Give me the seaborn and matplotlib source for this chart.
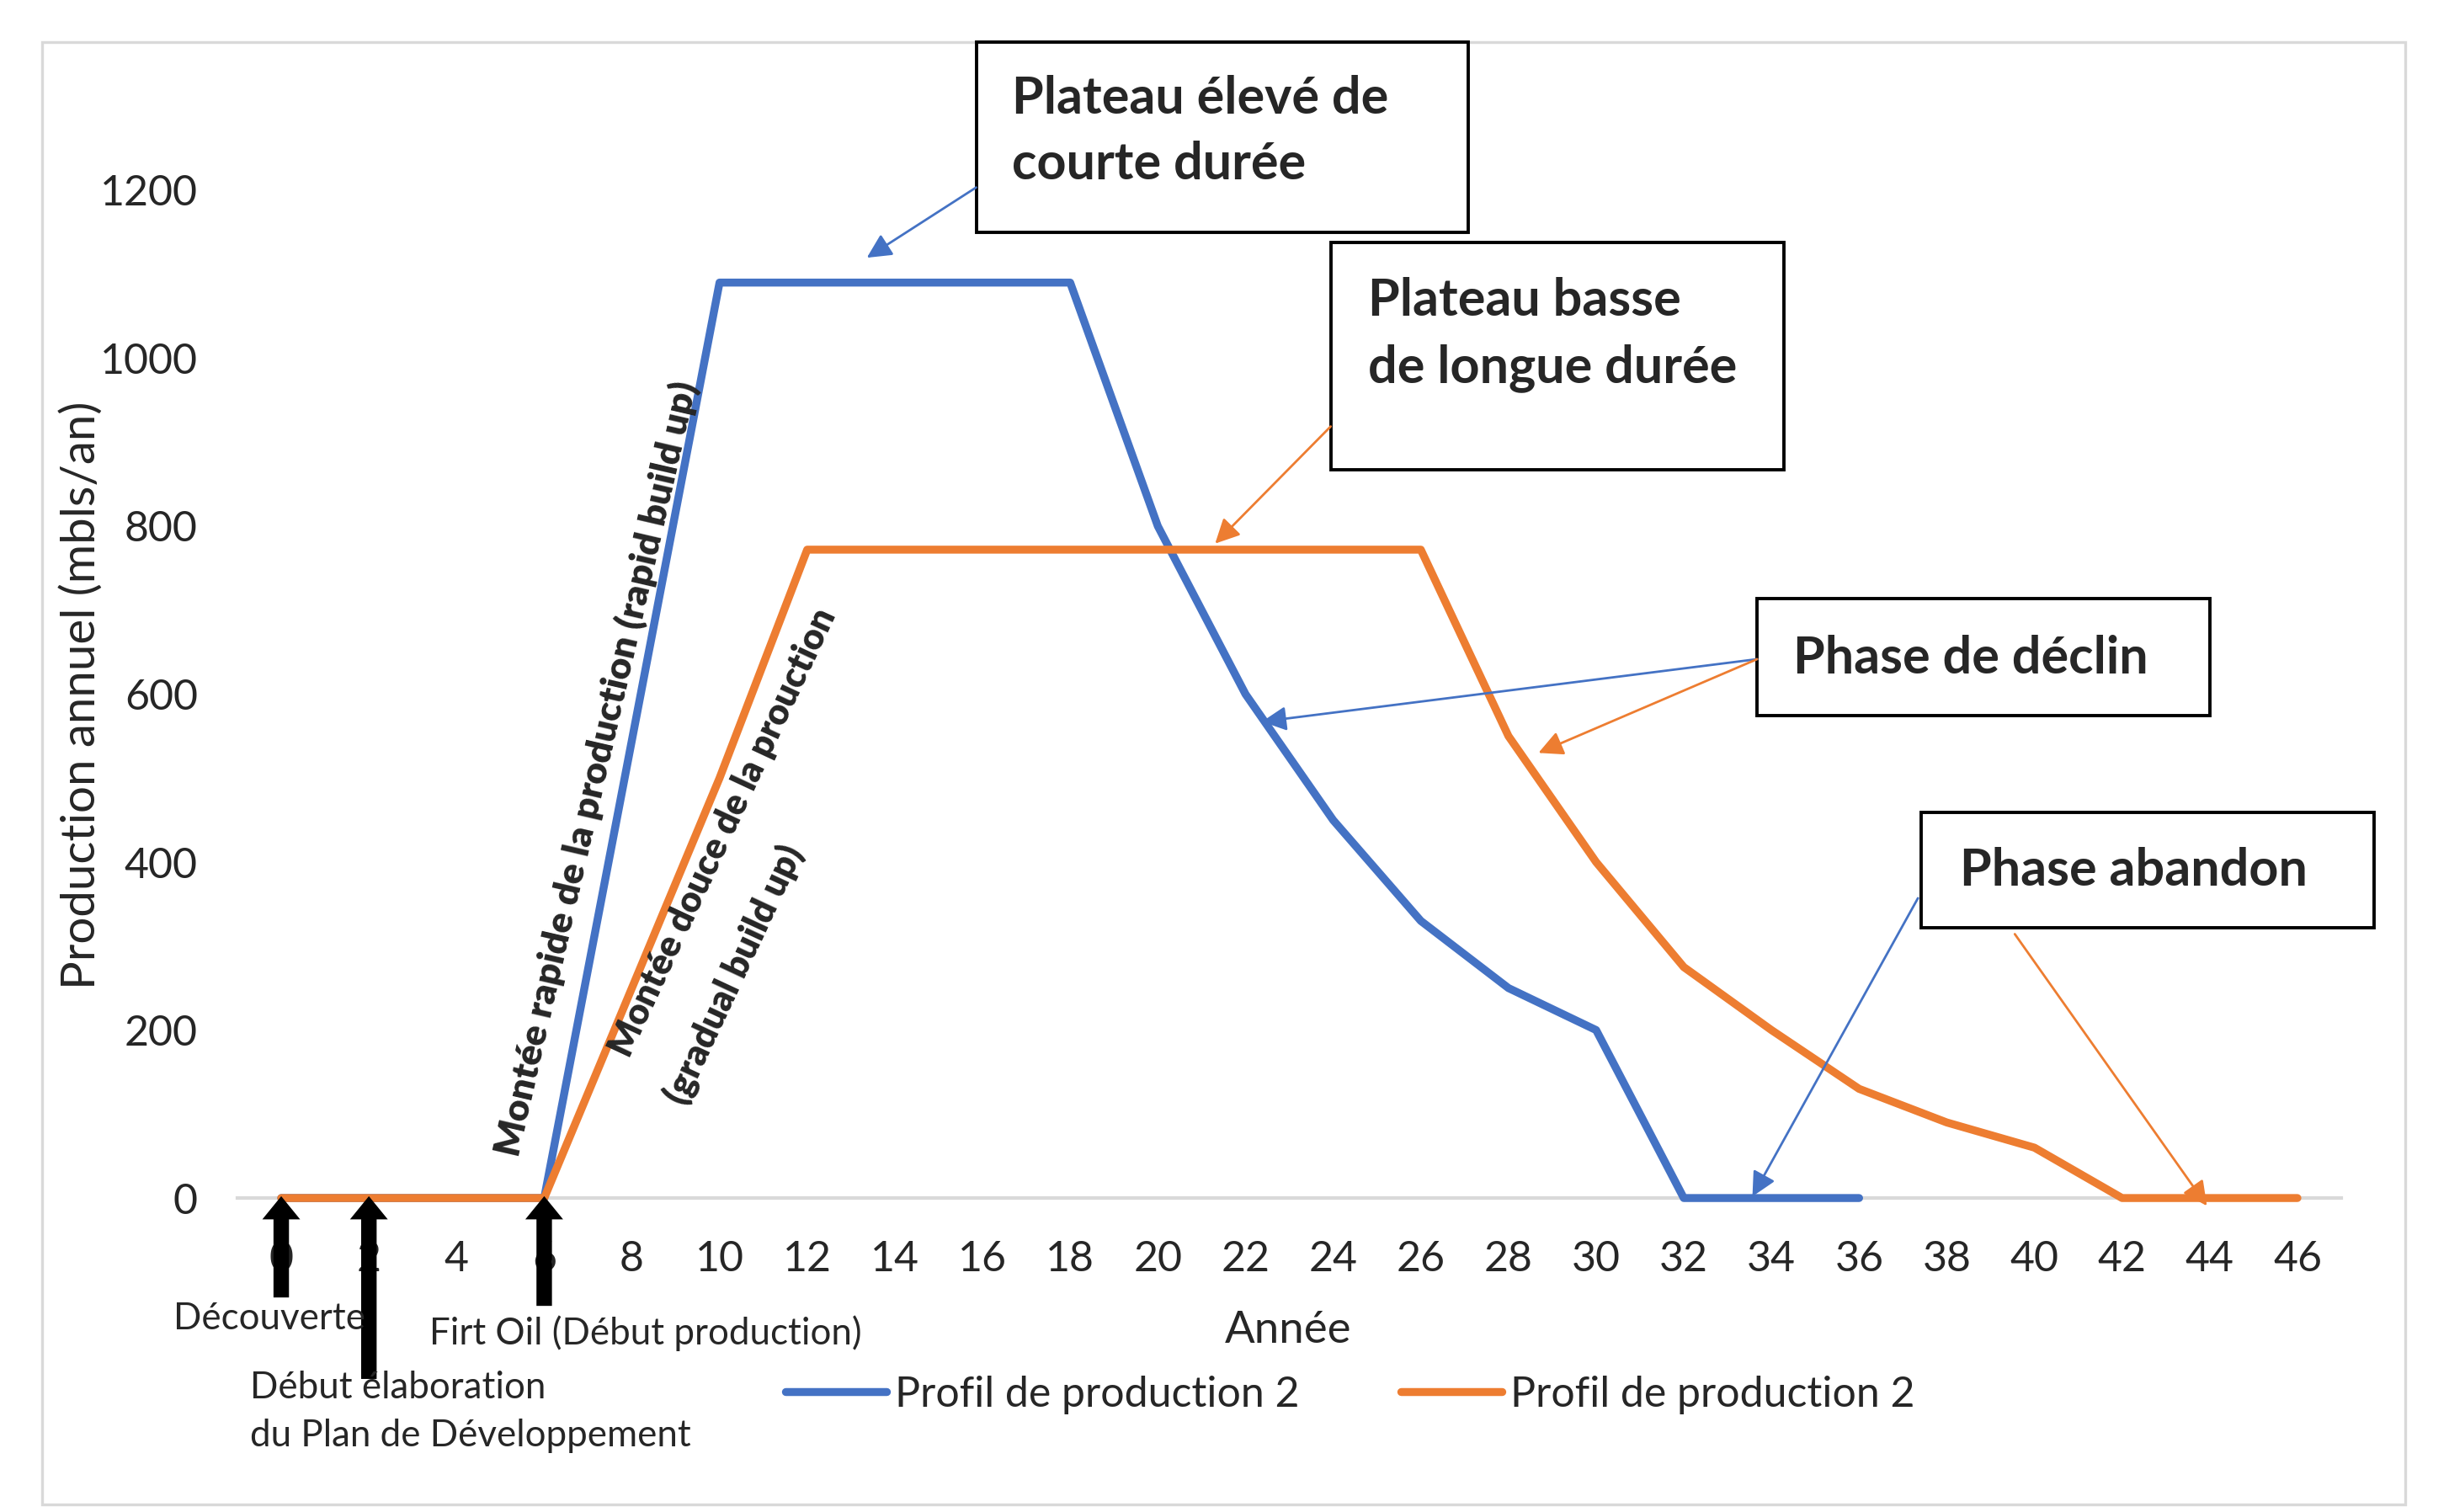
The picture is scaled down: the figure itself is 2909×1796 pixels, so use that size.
import matplotlib
matplotlib.use("Agg")
import matplotlib.pyplot as plt
import seaborn as sns
from matplotlib.patches import Rectangle, FancyArrow, FancyArrowPatch
from matplotlib.lines import Line2D

# ---------------- data ----------------
years_blue = [0, 2, 4, 6, 8, 10, 12, 14, 16, 18, 20, 22, 24, 26, 28, 30, 32, 34, 36]
prod_blue = [0, 0, 0, 0, 545, 1090, 1090, 1090, 1090, 1090, 800, 600, 450, 330, 250, 200, 0, 0, 0]
years_orange = [0, 2, 4, 6, 8, 10, 12, 14, 16, 18, 20, 22, 24, 26, 28, 30, 32, 34, 36, 38, 40, 42, 44, 46]
prod_orange = [0, 0, 0, 0, 250, 500, 772, 772, 772, 772, 772, 772, 772, 772, 550, 400, 275, 200, 130, 90, 60, 0, 0, 0]
series_label = "Profil de production 2"
x_ticks = list(range(0, 47, 2))
y_ticks = [0, 200, 400, 600, 800, 1000, 1200]
milestones_x = [0, 2, 6]
milestones_bottom = [-117, -214, -127]

BLUE = "#4472C4"
ORANGE = "#ED7D31"

sns.set_style("white")
plt.rcParams["font.family"] = ["Lato", "DejaVu Sans"]

W, H = 1568.0, 968.0
def F(px, py):
    return (px / W, 1 - py / H)

fig = plt.figure(figsize=(14.545, 8.98), dpi=200)
ax = fig.add_axes([152 / W, 1 - 767 / H, (1499 - 152) / W, (767 - 68) / H])

sns.lineplot(x=years_blue, y=prod_blue, ax=ax, color=BLUE, linewidth=3.4, sort=False,
             legend=False)
sns.lineplot(x=years_orange, y=prod_orange, ax=ax, color=ORANGE, linewidth=3.4, sort=False,
             legend=False)
for ln in ax.lines:
    ln.set_clip_on(False)
    ln.set_solid_joinstyle("round")
    ln.set_solid_capstyle("round")
    ln.set_zorder(3)

ax.set_xlim(-1, 47)
ax.set_ylim(0, 1300)
ax.set_xticks(x_ticks)
ax.set_yticks(y_ticks)
ax.set_xticklabels([str(v) for v in x_ticks], fontsize=18)
ax.set_yticklabels([str(v) for v in y_ticks], fontsize=18)
for s in ["top", "right", "left"]:
    ax.spines[s].set_visible(False)
ax.spines["bottom"].set_color("#D9D9D9")
ax.spines["bottom"].set_linewidth(1.5)
ax.tick_params(axis="both", length=0)
ax.tick_params(axis="x", pad=18)
ax.tick_params(axis="y", pad=17)
ax.grid(False)

ax.set_ylabel("Production annuel (mbls/an)", fontsize=20.3)
ax.yaxis.label.set_va("center")
ax.yaxis.set_label_coords((52 - 152) / (1499 - 152), (767 - 445) / (767 - 68))
ax.set_xlabel("Année", fontsize=19)
ax.xaxis.label.set_va("center")
ax.xaxis.set_label_coords(0.4996, -0.1216)

# milestone arrows
for mx, mb in zip(milestones_x, milestones_bottom):
    ax.add_patch(FancyArrow(mx, mb, 0, 0 - mb, width=0.3, head_width=0.75, head_length=24,
                            length_includes_head=True, color="black", clip_on=False, zorder=5))

# milestone texts
fs_m = 15.8
fig.text(*F(111, 851), "Découverte", fontsize=fs_m, ha="left", va="baseline")
fig.text(*F(275, 861), "Firt Oil (Début production)", fontsize=fs_m, ha="left", va="baseline")
fig.text(*F(160, 895), "Début élaboration", fontsize=fs_m, ha="left", va="baseline")
fig.text(*F(160, 926), "du Plan de Développement", fontsize=fs_m, ha="left", va="baseline")

# rotated build-up texts
fig.text(*F(382, 492), "Montée rapide de la production (rapid build up)", fontsize=16,
         fontweight="heavy", rotation=77, rotation_mode="anchor",
         ha="center", va="center")
fig.text(*F(463, 533), "Montée douce de la prouction", fontsize=15.5,
         fontweight="heavy", rotation=65, rotation_mode="anchor",
         ha="center", va="center")
fig.text(*F(470, 624), "(gradual build up)", fontsize=15.5,
         fontweight="heavy", rotation=65, rotation_mode="anchor",
         ha="center", va="center")

# boxes
boxes = [
    ((625, 27, 940, 149), ["Plateau élevé de", "courte durée"], 648, [73, 115]),
    ((852, 155, 1142, 301), ["Plateau basse", "de longue durée"], 876, [202, 245]),
    ((1125, 383, 1415, 458), ["Phase de déclin"], 1148, [431]),
    ((1230, 520, 1520, 594), ["Phase abandon"], 1255, [567]),
]
for (x0, y0, x1, y1), lines, tx, tys in boxes:
    fx0, fy1 = F(x0, y1)
    fx1, fy0 = F(x1, y0)
    fig.add_artist(Rectangle((fx0, fy1), fx1 - fx0, fy0 - fy1, transform=fig.transFigure,
                             facecolor="white", edgecolor="black", linewidth=1.4, zorder=6))
    for t, ty in zip(lines, tys):
        fig.text(*F(tx, ty), t, fontsize=22, fontweight="bold", ha="left", va="baseline",
                 zorder=7)

# callout arrows
callouts = [
    (BLUE, (625, 120), (555, 165)),
    (ORANGE, (852, 273), (778, 348)),
    (BLUE, (1125, 422), (808, 462)),
    (ORANGE, (1125, 422), (985, 482)),
    (BLUE, (1228, 575), (1122, 766)),
    (ORANGE, (1290, 598), (1413, 772)),
]
for col, start, end in callouts:
    fig.add_artist(FancyArrowPatch(
        F(*start), F(*end), transform=fig.transFigure, arrowstyle="-|>",
        mutation_scale=22, color=col, linewidth=1.0, shrinkA=0, shrinkB=0, zorder=8))

# legend
handles = [Line2D([0], [0], color=BLUE, lw=3.4, solid_capstyle="round"),
           Line2D([0], [0], color=ORANGE, lw=3.4, solid_capstyle="round")]
fig.legend(handles, [series_label, series_label], loc="center left",
           bbox_to_anchor=F(503, 893), ncol=2, frameon=False, fontsize=18,
           borderpad=0, borderaxespad=0, handlelength=2.4, handletextpad=0.2,
           columnspacing=2.4)

# outer border
fig.add_artist(Rectangle(F(27, 963), (1540 - 27) / W, (963 - 27) / H,
                         transform=fig.transFigure, fill=False, edgecolor="#D9D9D9",
                         linewidth=1.2, zorder=0))

fig.savefig("out.png", dpi=200, facecolor="white")
